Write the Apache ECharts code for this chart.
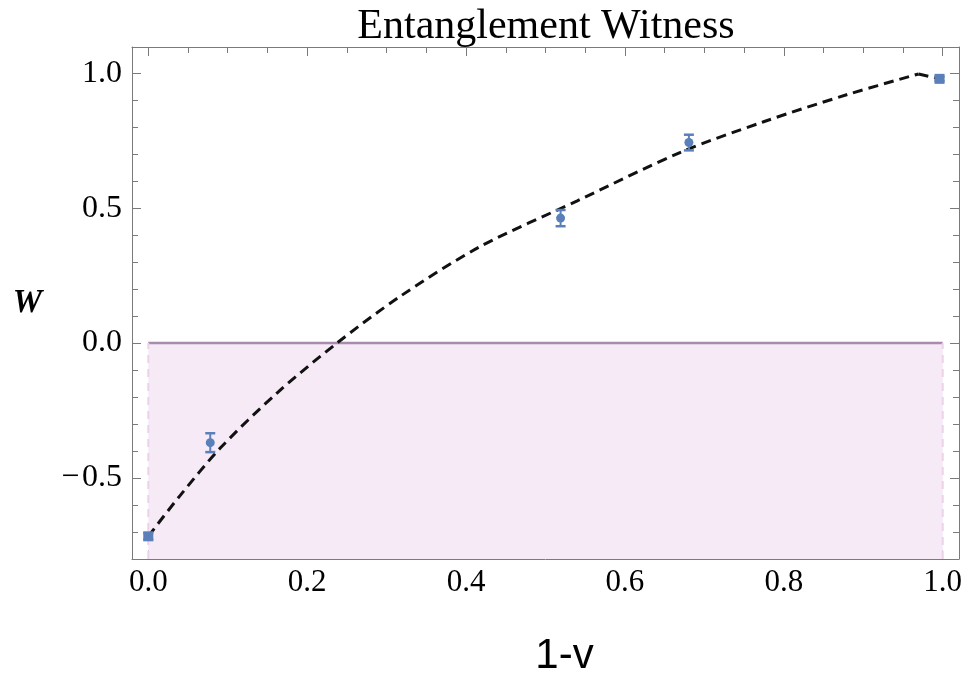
<!DOCTYPE html>
<html><head><meta charset="utf-8">
<script src="https://cdn.jsdelivr.net/npm/echarts@6/dist/echarts.min.js"></script>
<style>html,body{margin:0;padding:0;background:#fff}#c{width:969px;height:673px}</style>
</head><body><div id="c"></div>
<script>
const titleText = 'Entanglement Witness';
const xAxisName = '1-v';
const yAxisName = 'W';
const xMajorTicks = [0, 0.2, 0.4, 0.6, 0.8, 1.0];
const xMinorTicks = [0.05,0.1,0.15,0.25,0.3,0.35,0.45,0.5,0.55,0.65,0.7,0.75,0.85,0.9,0.95];
const yMajorTicks = [-0.5, 0, 0.5, 1.0];
const yMinorTicks = [-0.7,-0.6,-0.4,-0.3,-0.2,-0.1,0.1,0.2,0.3,0.4,0.6,0.7,0.8,0.9];
const xRange = [-0.0205, 1.0205];
const yRange = [-0.8, 1.097];

// measured points with error bars
const pointX = [0, 0.078, 0.519, 0.6805, 0.996];
const pointY = [-0.716, -0.369, 0.463, 0.743, 0.979];
const pointErr = [0.012, 0.035, 0.03, 0.029, 0.008];
const pointShape = ['rect', 'circle', 'circle', 'circle', 'rect'];

// theoretical (dashed) curve (rising part, then the short drop)
const curveX = [0, 0.04, 0.0906, 0.162, 0.2375, 0.317, 0.418, 0.54, 0.67, 0.7745, 0.879, 0.9696];
const curveY = [-0.716, -0.565, -0.389, -0.185, 0, 0.173, 0.358, 0.527, 0.707, 0.82, 0.92, 0.997];
const dropX = [0.9696, 0.996];
const dropY = [0.997, 0.979];

// shaded region W < 0
const regionX = [0, 1];
const regionTop = [0, 0];

const blue = '#5b80b9';
const axisGray = '#7a7a7a';
const serif = 'Liberation Serif';

function fmt(v) {
  const s = Math.abs(v).toFixed(1);
  return v < 0 ? '\u2212\u200A' + s : s;
}

function mkX(pos, ticks, len, main) {
  return {
    type: 'value', position: pos, min: xRange[0], max: xRange[1],
    axisLine: { show: main, onZero: false, lineStyle: { color: axisGray, width: 1 } },
    axisTick: { show: true, inside: true, length: len, customValues: ticks, lineStyle: { color: axisGray, width: 1 } },
    axisLabel: (main && pos === 'bottom') ? { show: true, customValues: xMajorTicks, formatter: fmt, fontFamily: serif, fontSize: 31, color: '#000', margin: 8 } : { show: false },
    splitLine: { show: false }
  };
}
function mkY(pos, ticks, len, main) {
  return {
    type: 'value', position: pos, min: yRange[0], max: yRange[1],
    axisLine: { show: main, onZero: false, lineStyle: { color: axisGray, width: 1 } },
    axisTick: { show: true, inside: true, length: len, customValues: ticks, lineStyle: { color: axisGray, width: 1 } },
    axisLabel: (main && pos === 'left') ? { show: true, customValues: yMajorTicks, formatter: fmt, fontFamily: serif, fontSize: 32, color: '#000', margin: 10 } : { show: false },
    splitLine: { show: false }
  };
}

const xAxes = [mkX('bottom', xMajorTicks, 9, true), mkX('bottom', xMinorTicks, 6, false), mkX('top', xMajorTicks, 9, true), mkX('top', xMinorTicks, 6, false)];
xAxes[0].name = xAxisName;
xAxes[0].nameLocation = 'middle';
xAxes[0].nameGap = 76;
xAxes[0].nameTextStyle = { fontFamily: 'Liberation Sans', fontSize: 42, color: '#000', padding: [0, 0, 0, 38] };
const yAxes = [mkY('left', yMajorTicks, 9, true), mkY('left', yMinorTicks, 6, false), mkY('right', yMajorTicks, 9, true), mkY('right', yMinorTicks, 6, false)];
yAxes[0].name = yAxisName;
yAxes[0].nameLocation = 'middle';
yAxes[0].nameRotate = 0;
yAxes[0].nameGap = 90;
yAxes[0].nameTextStyle = { fontFamily: serif, fontSize: 33, fontWeight: 'bold', fontStyle: 'italic', color: '#000' };

const chart = echarts.init(document.getElementById('c'), null, { renderer: 'canvas' });
chart.setOption({
  backgroundColor: '#fff',
  animation: false,
  title: { text: titleText, left: 541, top: 1, textAlign: 'center', textStyle: { fontFamily: serif, fontSize: 42, fontWeight: 'normal', color: '#000' } },
  grid: { left: 132, right: 10, top: 47, bottom: 114, containLabel: false, outerBoundsMode: 'none' },
  xAxis: xAxes,
  yAxis: yAxes,
  series: [
    {
      type: 'line', data: regionX.map((x, i) => [x, regionTop[i]]), showSymbol: false, silent: true, z: 1,
      lineStyle: { color: '#a98bb0', width: 2.5 },
      areaStyle: { color: '#f5eaf5', opacity: 1, origin: 'start' }
    },
    {
      type: 'line', data: [[regionX[0], yRange[0]], [regionX[0], regionTop[0]]], showSymbol: false, silent: true, z: 1,
      lineStyle: { color: '#ecd3ea', width: 2, type: [8, 6] }
    },
    {
      type: 'line', data: [[regionX[1], yRange[0]], [regionX[1], regionTop[1]]], showSymbol: false, silent: true, z: 1,
      lineStyle: { color: '#ecd3ea', width: 2, type: [8, 6] }
    },
    {
      type: 'line', data: curveX.map((x, i) => [x, curveY[i]]), showSymbol: false, z: 3,
      smooth: 0.3,
      lineStyle: { color: '#111', width: 3, type: [10, 6] }
    },
    {
      type: 'line', data: dropX.map((x, i) => [x, dropY[i]]), showSymbol: false, z: 3,
      lineStyle: { color: '#111', width: 3, type: [10, 6] }
    },
    {
      type: 'custom', z: 4,
      data: pointX.map((x, i) => [x, pointY[i], pointErr[i]]),
      renderItem: function (params, api) {
        const x = api.value(0), y = api.value(1), e = api.value(2);
        const t = api.coord([x, y + e]), b = api.coord([x, y - e]);
        const w = 5;
        const st = { stroke: blue, lineWidth: 2 };
        return { type: 'group', children: [
          { type: 'line', shape: { x1: t[0], y1: t[1], x2: b[0], y2: b[1] }, style: st },
          { type: 'line', shape: { x1: t[0] - w, y1: t[1], x2: t[0] + w, y2: t[1] }, style: { stroke: blue, lineWidth: 2.5 } },
          { type: 'line', shape: { x1: b[0] - w, y1: b[1], x2: b[0] + w, y2: b[1] }, style: { stroke: blue, lineWidth: 2.5 } }
        ] };
      }
    },
    {
      type: 'scatter', z: 5,
      data: pointX.map((x, i) => ({ value: [x, pointY[i]], symbol: pointShape[i], symbolSize: pointShape[i] === 'rect' ? 10 : 9 })),
      itemStyle: { color: blue, opacity: 1 }
    }
  ]
});
</script></body></html>
